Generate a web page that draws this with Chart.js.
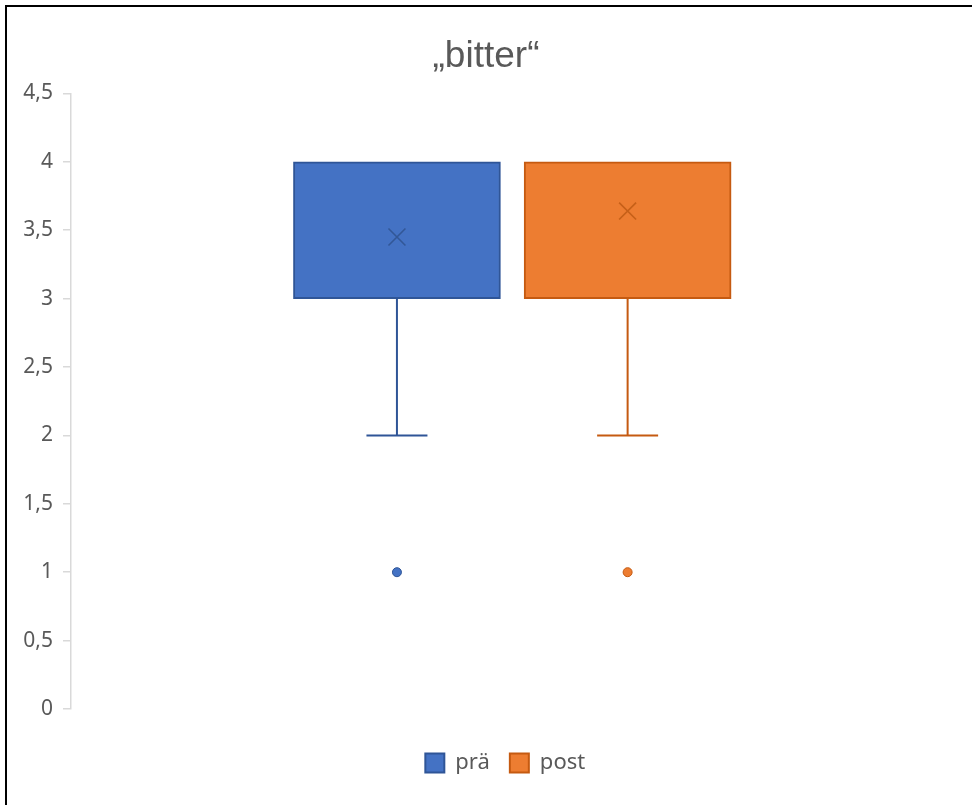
<!DOCTYPE html>
<html lang="de">
<head>
<meta charset="utf-8">
<title>„bitter“</title>
<script src="https://cdn.jsdelivr.net/npm/chart.js@4/dist/chart.umd.min.js"></script>
<style>
  html, body { margin: 0; padding: 0; background: #ffffff; }
  #wrap { position: relative; width: 972px; height: 805px; overflow: hidden; }
  #frame { position: absolute; left: 5px; top: 5px; right: -10px; bottom: -10px;
           border-left: 2px solid #000; border-top: 2px solid #000; pointer-events: none; }
  canvas { display: block; }
</style>
</head>
<body>
<div id="wrap">
  <canvas id="chart" width="972" height="805"></canvas>
  <div id="frame"></div>
</div>
<script>
// Box-plot figures per group
const groups      = ['prä', 'post'];
const lowerQuart  = [3, 3];
const upperQuart  = [4, 4];
const whiskerMin  = [2, 2];
const whiskerMax  = [4, 4];
const meanValues  = [3.45, 3.64];
const outlierVals = [[1], [1]];

// Value-axis tick labels (German decimal comma)
const yTickValues = [0, 0.5, 1, 1.5, 2, 2.5, 3, 3.5, 4, 4.5];
const yTickLabels = ['0', '0,5', '1', '1,5', '2', '2,5', '3', '3,5', '4', '4,5'];

// Styling
const fillColors = ['#4472C4', '#ED7D31'];
const lineColors = ['#2F5597', '#C55A11'];
const markColors = ['rgba(47,82,143,0.85)', 'rgba(190,90,20,0.85)'];

const datasets = [];

// Boxes: floating bars from lower to upper quartile
groups.forEach((g, i) => {
  datasets.push({
    type: 'bar',
    label: g,
    data: [{ x: i + 1, y: [lowerQuart[i], upperQuart[i]] }],
    backgroundColor: fillColors[i],
    borderColor: lineColors[i],
    borderWidth: 2,
    borderSkipped: false,
    barThickness: 207,
    grouped: false,
    order: 5
  });
});

// Whisker stems, caps (only where the whisker has length), mean markers, outliers
groups.forEach((g, i) => {
  const x = i + 1;
  const caps = [];
  if (whiskerMin[i] < lowerQuart[i]) caps.push({ x, y: whiskerMin[i] });
  if (whiskerMax[i] > upperQuart[i]) caps.push({ x, y: whiskerMax[i] });
  datasets.push({
    type: 'scatter', label: g + ' Whisker unten', showLine: true,
    data: [{ x, y: whiskerMin[i] }, { x, y: lowerQuart[i] }],
    borderColor: lineColors[i], borderWidth: 2, pointRadius: 0, order: 4
  });
  datasets.push({
    type: 'scatter', label: g + ' Whisker oben', showLine: true,
    data: [{ x, y: upperQuart[i] }, { x, y: whiskerMax[i] }],
    borderColor: lineColors[i], borderWidth: 2, pointRadius: 0, order: 4
  });
  datasets.push({
    type: 'scatter', label: g + ' Enden',
    data: caps,
    pointStyle: 'line', pointRadius: 30.5, pointHoverRadius: 30.5,
    borderColor: lineColors[i], borderWidth: 2, order: 3
  });
  datasets.push({
    type: 'scatter', label: g + ' Mittelwert',
    data: [{ x, y: meanValues[i] }],
    pointStyle: 'crossRot', pointRadius: 12, pointHoverRadius: 12,
    borderColor: markColors[i], borderWidth: 1.6, order: 1
  });
  datasets.push({
    type: 'scatter', label: g + ' Ausreißer',
    data: outlierVals[i].map(v => ({ x, y: v })),
    pointStyle: 'circle', pointRadius: 4.5, pointHoverRadius: 4.5,
    backgroundColor: fillColors[i], borderColor: lineColors[i], borderWidth: 1, order: 1
  });
});

new Chart(document.getElementById('chart'), {
  data: { datasets },
  options: {
    responsive: false,
    animation: false,
    layout: { padding: { left: 0, right: 0, top: 0, bottom: 21 } },
    plugins: {
      title: {
        display: true,
        text: '„bitter“',
        color: '#595959',
        font: { family: '"Liberation Sans", Arial, sans-serif', size: 37, weight: 'normal' },
        padding: { top: 35, bottom: 14 }
      },
      legend: {
        position: 'bottom',
        fullSize: false,
        labels: {
          filter: item => item.datasetIndex < groups.length,
          boxWidth: 19, boxHeight: 19,
          padding: 20,
          color: '#595959',
          font: { family: '"Noto Sans", sans-serif', size: 22 }
        }
      },
      tooltip: { enabled: false }
    },
    scales: {
      x: {
        type: 'linear',
        display: true,
        offset: false,
        min: -0.413,
        max: 3.352,
        afterFit: s => { s.height = 23; },
        ticks: { display: false },
        grid: { display: false },
        border: { display: false }
      },
      y: {
        type: 'linear',
        position: 'left',
        min: 0,
        max: 4.5,
        afterBuildTicks: s => { s.ticks = yTickValues.map(v => ({ value: v })); },
        afterFit: s => { s.width = 71; },
        ticks: {
          callback: (v, idx) => yTickLabels[idx],
          color: '#595959',
          padding: 10,
          font: { family: '"Noto Sans", sans-serif', size: 21 }
        },
        grid: { drawOnChartArea: false, drawTicks: true, tickLength: 8, color: '#D9D9D9', lineWidth: 1.5 },
        border: { display: true, color: '#D9D9D9', width: 1.5 }
      },
      // empty right-hand margin beside the plot
      yRight: {
        type: 'linear',
        position: 'right',
        display: true,
        min: 0,
        max: 4.5,
        afterFit: s => { s.width = 7; },
        ticks: { display: false },
        grid: { display: false },
        border: { display: false }
      }
    }
  }
});
</script>
</body>
</html>
